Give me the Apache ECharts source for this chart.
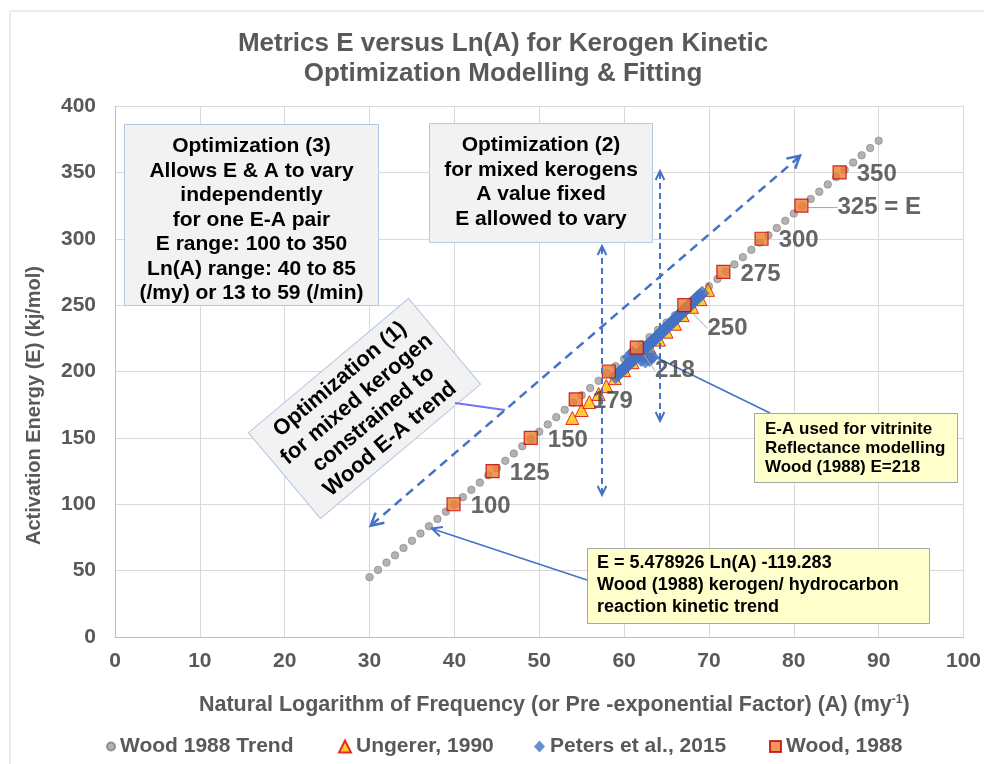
<!DOCTYPE html>
<html><head><meta charset="utf-8">
<script src="https://cdn.jsdelivr.net/npm/echarts@6/dist/echarts.min.js"></script>
<style>html,body{margin:0;padding:0;background:#fff}#c{width:984px;height:764px}</style>
</head><body><div id="c"></div>
<script>
// ---------------- DATA ----------------
const trendLnA = [30,31,32,33,34,35,36,37,38,39,40,41,42,43,44,45,46,47,48,49,50,51,52,53,54,55,56,57,58,59,60,61,62,63,64,65,66,67,68,69,70,71,72,73,74,75,76,77,78,79,80,81,82,83,84,85,86,87,88,89,90];
const trendE = [45.085,50.564,56.043,61.522,67.000,72.479,77.958,83.437,88.916,94.395,99.874,105.353,110.832,116.311,121.790,127.269,132.747,138.226,143.705,149.184,154.663,160.142,165.621,171.100,176.579,182.058,187.537,193.016,198.494,203.973,209.452,214.931,220.410,225.889,231.368,236.847,242.326,247.805,253.284,258.763,264.242,269.721,275.199,280.678,286.157,291.636,297.115,302.594,308.073,313.552,319.031,324.510,329.989,335.468,340.946,346.425,351.904,357.383,362.862,368.341,373.820];

const ungererLnA = [53.9,55.0,55.9,57.0,57.9,58.9,60.0,61.0,62.0,63.0,64.1,65.0,66.0,66.9,68.0,69.0,69.9];
const ungererE   = [165,171,177,183,189,195,201,207,213,218,224,230,236,242.5,248.7,254.5,261.5];

const petersLnA = [59.0,59.3,59.6,59.9,60.2,60.5,60.8,61.1,61.4,61.7,62.0,62.3,62.6,62.9,63.2,63.5,63.8,64.1,64.4,64.7,65.0,65.3,65.6,65.9,66.2,66.5,66.8,67.1,67.4,67.7,68.0,68.3,68.6,68.9,69.2,60.6,61.0,62.0,62.5,63.0,63.3];
const petersE   = [196,198,200,201.5,203.5,205.5,207,209,211,213,214.5,216.5,218.5,220,222,224,225.5,227.5,229.5,231,233,235,237,238.5,240.5,242.5,244,246,248,250,251.5,253.5,255.5,257,259,211,214,209,208,209,211];

const woodLnA   = [39.9,44.5,49.0,54.3,58.2,61.5,67.1,71.7,76.2,80.9,85.4];
const woodE     = [100,125,150,179,200,218,250,275,300,325,350];
const woodLabels = ['100','125','150','179','','218','250','275','300','325 = E','350'];

const seriesNames = ['Wood 1988 Trend','Ungerer, 1990','Peters et al., 2015','Wood, 1988'];
const xMin = 0, xMax = 100, xStep = 10;
const yMin = 0, yMax = 400, yStep = 50;

const titleText = 'Metrics E versus Ln(A) for Kerogen Kinetic\nOptimization Modelling & Fitting';
const xTitle = 'Natural Logarithm of Frequency (or Pre -exponential Factor) (A) (my{sup|-1})';
const yTitle = 'Activation Energy (E) (kj/mol)';
const box3Lines = ['Optimization (3)','Allows E & A to vary','independently','for one E-A pair','E range: 100 to 350','Ln(A) range: 40 to 85','(/my) or 13 to 59 (/min)'];
const box2Lines = ['Optimization (2)','for mixed kerogens','A value fixed','E allowed to vary'];
const box1Lines = ['Optimization (1)','for mixed kerogen','constrained to','Wood E-A trend'];
const note1Lines = ['E-A used for vitrinite','Reflectance modelling','Wood (1988) E=218'];
const note2Lines = ['E = 5.478926 Ln(A) -119.283','Wood (1988) kerogen/ hydrocarbon','reaction kinetic trend'];

// ---------------- STYLE ----------------
const FF = 'Arial, "Liberation Sans", Helvetica, sans-serif';
const BLUE = '#4472C4';
const AX = '#595959';

function chev(tx, ty, fx, fy, len, spread) {
  const a = Math.atan2(fy - ty, fx - tx);
  return [[tx + len*Math.cos(a+spread), ty + len*Math.sin(a+spread)], [tx, ty], [tx + len*Math.cos(a-spread), ty + len*Math.sin(a-spread)]];
}
function line(x1,y1,x2,y2,color,w,dash,z){
  return {type:'line', shape:{x1,y1,x2,y2}, style:{stroke:color, lineWidth:w, lineDash:dash||null}, z:z||60, silent:true};
}
function poly(pts,color,w,z){
  return {type:'polyline', shape:{points:pts}, style:{stroke:color, lineWidth:w, fill:null}, z:z||60, silent:true};
}
function textEl(x,y,lines,size,align,lh,fill){
  return {type:'text', x, y, z:70, silent:true, style:{text:lines.join('\n'), fontSize:size, fontWeight:'bold', fontFamily:FF, fill:fill||'#000', align, verticalAlign:'middle', lineHeight:lh}};
}

const graphics = [];
graphics.push({type:'rect', shape:{x:10,y:11,width:1000,height:800}, style:{fill:null, stroke:'#D9D9D9', lineWidth:1}, z:-10, silent:true});
// Box 3
graphics.push({type:'rect', shape:{x:124.5,y:124.5,width:254,height:181}, style:{fill:'#F2F2F2', stroke:'#B4C7E7', lineWidth:1}, z:50, silent:true});
graphics.push(textEl(251.5,220,box3Lines,21,'center',24.5));
// Box 2
graphics.push({type:'rect', shape:{x:429.5,y:123.5,width:223,height:119}, style:{fill:'#F2F2F2', stroke:'#B4C7E7', lineWidth:1}, z:50, silent:true});
graphics.push(textEl(541,182,box2Lines,21,'center',24.5));
// Box 1 rotated
graphics.push({type:'group', x:364.5, y:408.5, rotation:40*Math.PI/180, z:50, silent:true, children:[
  {type:'rect', shape:{x:-104.5,y:-56,width:209,height:112}, style:{fill:'#F2F2F2', stroke:'#B4C7E7', lineWidth:1}, z:50},
  {type:'text', x:0, y:1, z:70, style:{text:box1Lines.join('\n'), fontSize:22, fontWeight:'bold', fontFamily:FF, fill:'#000', align:'center', verticalAlign:'middle', lineHeight:26}}
]});
graphics.push(line(455,403,505,410,'#7373EE',1.8));
// Yellow note 1
graphics.push({type:'rect', shape:{x:754.5,y:413.5,width:203,height:69}, style:{fill:'#FFFFCC', stroke:'#A6A6A6', lineWidth:1}, z:50, silent:true});
graphics.push(textEl(765,448,note1Lines,17,'left',19));
graphics.push(line(770,413,641,350,BLUE,1.5,null,1));
// Yellow note 2
graphics.push({type:'rect', shape:{x:587.5,y:548.5,width:342,height:75}, style:{fill:'#FFFFCC', stroke:'#A6A6A6', lineWidth:1}, z:50, silent:true});
graphics.push(textEl(597,585.5,note2Lines,18,'left',22));
graphics.push(line(587,580,433,529,BLUE,1.5));
graphics.push(poly(chev(432,528.5,587,580,11,0.45),BLUE,2));
// Diagonal dashed double arrow
graphics.push(line(372,524.5,799,157,BLUE,2.5,[9,6]));
graphics.push(poly(chev(370.7,525.7,800,155.7,14,0.5),BLUE,2.5));
graphics.push(poly(chev(800,155.7,370.7,525.7,14,0.5),BLUE,2.5));
// Vertical dashed double arrows
graphics.push(line(602,248,602,493,BLUE,2,[6,4]));
graphics.push(poly(chev(602,246,602,495,10,0.45),BLUE,2));
graphics.push(poly(chev(602,495,602,246,10,0.45),BLUE,2));
graphics.push(line(660,173,660,419,BLUE,2,[6,4]));
graphics.push(poly(chev(660,171,660,421,10,0.45),BLUE,2));
graphics.push(poly(chev(660,421,660,171,10,0.45),BLUE,2));

const labelShift = {5:[1,23], 6:[6,23], 9:[19,2]};
const leaderIdx = [5,6,9];

const legendText = {fontSize:21, fontWeight:'bold', color:AX, fontFamily:FF};
const legendTop = 731;

const option = {
  animation: false,
  backgroundColor: '#fff',
  textStyle: {fontFamily: FF},
  title: {text: titleText, left: 498, textAlign: 'center', top: 24,
    textStyle: {fontSize: 26, fontWeight: 'bold', color: AX, lineHeight: 30, fontFamily: FF}},
  grid: {left: 115, right: 20, top: 106, bottom: 127, containLabel: false},
  xAxis: {type: 'value', min: xMin, max: xMax, interval: xStep,
    name: xTitle, nameLocation: 'middle', nameGap: 57,
    nameTextStyle: {fontSize: 21.5, fontWeight: 'bold', color: AX, fontFamily: FF, padding: [0,0,0,30],
      rich: {sup: {fontSize: 12, fontWeight: 'bold', color: AX, fontFamily: FF, padding: [0,0,10,0]}}},
    axisLine: {show: true, lineStyle: {color: '#BFBFBF', width: 1}},
    axisTick: {show: false},
    axisLabel: {fontSize: 21, fontWeight: 'bold', color: AX, margin: 14, fontFamily: FF},
    splitLine: {show: true, lineStyle: {color: '#D9D9D9', width: 1}}},
  yAxis: {type: 'value', min: yMin, max: yMax, interval: yStep,
    name: yTitle, nameLocation: 'middle', nameGap: 71,
    nameTextStyle: {fontSize: 20, fontWeight: 'bold', color: AX, fontFamily: FF, padding: [0,68,0,0]},
    axisLine: {show: true, lineStyle: {color: '#BFBFBF', width: 1}},
    axisTick: {show: false},
    axisLabel: {fontSize: 21, fontWeight: 'bold', color: AX, margin: 19, fontFamily: FF},
    splitLine: {show: true, lineStyle: {color: '#D9D9D9', width: 1}}},
  legend: [
    {data: [{name: seriesNames[0], icon: 'circle'}], left: 101, top: legendTop, itemWidth: 8, itemHeight: 8, textStyle: legendText, selectedMode: false},
    {data: [{name: seriesNames[1], icon: 'triangle'}], left: 333, top: legendTop, itemWidth: 12, itemHeight: 12, textStyle: legendText, selectedMode: false},
    {data: [{name: seriesNames[2], icon: 'diamond'}], left: 529, top: legendTop, itemWidth: 11, itemHeight: 12, textStyle: legendText, selectedMode: false},
    {data: [{name: seriesNames[3], icon: 'rect'}], left: 764, top: legendTop, itemWidth: 11, itemHeight: 11, textStyle: legendText, selectedMode: false}
  ],
  series: [
    {name: seriesNames[0], type: 'scatter', z: 2, symbol: 'circle', symbolSize: 7.5,
      itemStyle: {color: '#A0A0A0', borderColor: '#808080', borderWidth: 0.8},
      data: trendLnA.map((x, i) => [x, trendE[i]])},
    {name: seriesNames[1], type: 'scatter', z: 3, symbol: 'triangle', symbolSize: 13,
      itemStyle: {color: '#FFC000', borderColor: '#E00000', borderWidth: 1},
      data: ungererLnA.map((x, i) => [x, ungererE[i]])},
    {name: seriesNames[2], type: 'scatter', z: 4, symbol: 'diamond', symbolSize: 15,
      itemStyle: {color: BLUE},
      data: petersLnA.map((x, i) => [x, petersE[i]])},
    {name: seriesNames[3], type: 'scatter', z: 5, symbol: 'rect', symbolSize: 13,
      itemStyle: {color: '#ED7D31', borderColor: '#C00000', borderWidth: 1.2},
      label: {show: true, position: 'right', distance: 10, fontSize: 24, fontWeight: 'bold', color: '#404040', fontFamily: FF,
        formatter: p => woodLabels[p.dataIndex]},
      labelLine: {show: false, lineStyle: {color: '#A6A6A6', width: 1}},
      labelLayout: p => {
        const s = labelShift[p.dataIndex];
        return s ? {dx: s[0], dy: s[1]} : {dx: 0, dy: 2};
      },
      data: woodLnA.map((x, i) => ({value: [x, woodE[i]], labelLine: {show: leaderIdx.includes(i), lineStyle: {color: '#A6A6A6', width: 1}}}))}
  ],
  graphic: graphics
};

const chart = echarts.init(document.getElementById('c'), null, {renderer: 'canvas'});
chart.setOption(option);
</script>
</body></html>
